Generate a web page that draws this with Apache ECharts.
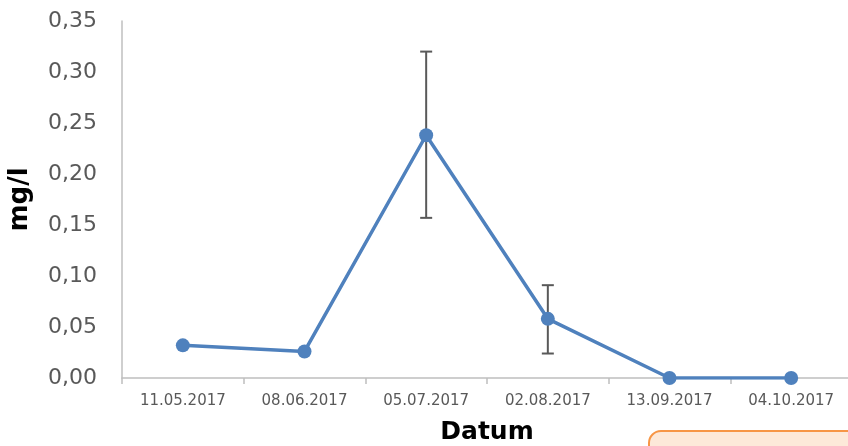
<!DOCTYPE html>
<html>
<head>
<meta charset="utf-8">
<script src="https://cdn.jsdelivr.net/npm/echarts@6/dist/echarts.min.js"></script>
<style>
  html, body { margin: 0; padding: 0; background: #ffffff; }
  #chart { width: 848px; height: 446px; }
</style>
</head>
<body>
<div id="chart"></div>
<script>
// Sampling dates and measured concentrations (mg/l)
const dates = ['11.05.2017', '08.06.2017', '05.07.2017', '02.08.2017', '13.09.2017', '04.10.2017'];
const values = [0.032, 0.026, 0.238, 0.058, 0.0, 0.0];
// Error bar ranges (low / high) per date, null where no bar is drawn
const errLow = [null, null, 0.157, 0.024, null, null];
const errHigh = [null, null, 0.320, 0.091, null, null];
const yTicks = [0, 0.05, 0.10, 0.15, 0.20, 0.25, 0.30, 0.35];

const errorData = [];
dates.forEach((d, i) => {
  if (errLow[i] !== null) errorData.push([i, errLow[i], errHigh[i]]);
});

const chart = echarts.init(document.getElementById('chart'), null, { renderer: 'canvas' });

chart.setOption({
  animation: false,
  backgroundColor: '#ffffff',
  grid: { left: 122, top: 21, width: 730, bottom: 68, containLabel: false, outerBoundsMode: 'none' },
  xAxis: {
    type: 'category',
    data: dates,
    boundaryGap: true,
    name: 'Datum',
    nameLocation: 'middle',
    nameGap: 42,
    nameTextStyle: { fontFamily: 'DejaVu Sans', fontWeight: 'bold', fontSize: 25, color: '#000000' },
    axisLine: { lineStyle: { color: '#bfbfbf', width: 1.5 } },
    axisTick: { show: true, length: 6, lineStyle: { color: '#bfbfbf', width: 1.5 } },
    axisLabel: { fontFamily: 'DejaVu Sans', fontSize: 15, color: '#595959', margin: 16 }
  },
  yAxis: {
    type: 'value',
    min: 0,
    max: yTicks[yTicks.length - 1],
    interval: 0.05,
    name: 'mg/l',
    nameLocation: 'middle',
    nameGap: 89,
    nameRotate: 90,
    nameTextStyle: { fontFamily: 'DejaVu Sans', fontWeight: 'bold', fontSize: 26, color: '#000000' },
    axisLine: { show: true, lineStyle: { color: '#bfbfbf', width: 1.5 } },
    axisTick: { show: false },
    splitLine: { show: false },
    axisLabel: {
      fontFamily: 'DejaVu Sans', fontSize: 22, color: '#595959', margin: 25,
      formatter: v => v.toFixed(2).replace('.', ',')
    }
  },
  series: [
    {
      type: 'custom',
      data: errorData,
      z: 3,
      renderItem: function (params, api) {
        const x = api.value(0);
        const lo = api.coord([x, api.value(1)]);
        const hi = api.coord([x, api.value(2)]);
        const cap = 6;
        const style = { stroke: '#595959', lineWidth: 2 };
        return {
          type: 'group',
          children: [
            { type: 'line', shape: { x1: hi[0], y1: hi[1], x2: lo[0], y2: lo[1] }, style },
            { type: 'line', shape: { x1: hi[0] - cap, y1: hi[1], x2: hi[0] + cap, y2: hi[1] }, style },
            { type: 'line', shape: { x1: lo[0] - cap, y1: lo[1], x2: lo[0] + cap, y2: lo[1] }, style }
          ]
        };
      }
    },
    {
      type: 'line',
      data: values,
      z: 4,
      symbol: 'circle',
      symbolSize: 14,
      lineStyle: { color: '#4f81bd', width: 3.5 },
      itemStyle: { color: '#4f81bd' }
    }
  ],
  graphic: [
    {
      type: 'rect',
      left: 648,
      top: 430,
      shape: { width: 230, height: 60, r: 12 },
      style: { fill: '#fde9d9', stroke: '#f79646', lineWidth: 2 },
      z: 10
    }
  ]
});
</script>
</body>
</html>
